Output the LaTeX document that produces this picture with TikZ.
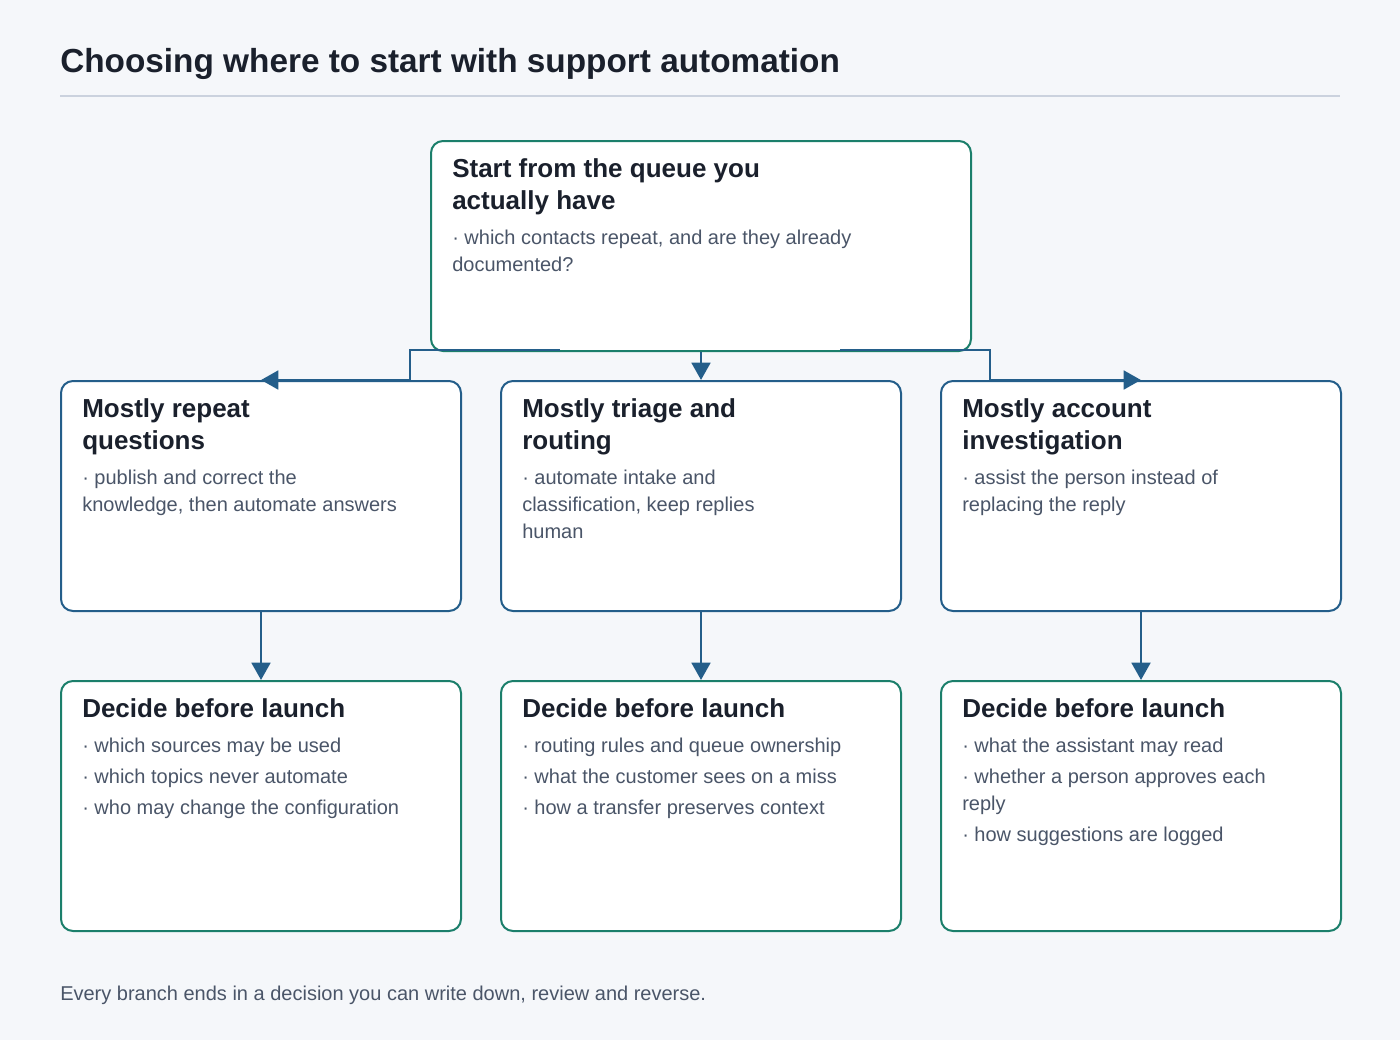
\documentclass[tikz,border=0pt]{standalone}
\usepackage{fontspec}
\setmainfont{Liberation Sans}
\usetikzlibrary{positioning,arrows.meta,backgrounds}
\definecolor{fondgris}{HTML}{F5F7FA}
\definecolor{bordvert}{HTML}{1B7F6B}
\definecolor{bordbleu}{HTML}{245E8A}
\definecolor{titrenoir}{HTML}{1A202C}
\definecolor{textegris}{HTML}{4A5568}
\definecolor{filetgris}{HTML}{CBD2DE}

\begin{document}
\begin{tikzpicture}[%
    x=0.75pt,y=-0.75pt,%
    boite/.style={draw,line width=1.5pt,fill=white,rounded corners=9pt,anchor=north west,inner sep=0pt},%
    vert/.style={boite,draw=bordvert},%
    bleu/.style={boite,draw=bordbleu},%
    titre/.style={anchor=north west,inner sep=0pt,align=left,text=titrenoir,font=\fontsize{19.5}{24}\selectfont\bfseries},%
    corps/.style={anchor=north west,inner sep=0pt,align=left,text=textegris,font=\fontsize{15}{20.3}\selectfont},%
    fleche/.style={draw=bordbleu,line width=2.2pt,-{Triangle[length=13pt,width=14pt]}}%
    ]
    % Fond
    \fill[fondgris] (0,0) rectangle (1400,1040);
    \useasboundingbox (0,0) rectangle (1400,1040);

    % Titre
    \node[anchor=base west,inner sep=0pt,text=titrenoir,font=\fontsize{25}{30}\selectfont\bfseries]
        (entete) at (60,72) {Choosing where to start with support automation};
    \draw[filetgris,line width=1.5pt] (60,96) -- (1340,96);

    %
    % Boites
    %
    \node[vert,minimum width=405pt,minimum height=157.5pt] (depart) at (430,140) {};
    \node[bleu,minimum width=300pt,minimum height=172.5pt] (repet) at (60,380) {};
    \node[bleu,minimum width=300pt,minimum height=172.5pt] (tri) at (500,380) {};
    \node[bleu,minimum width=300pt,minimum height=172.5pt] (compte) at (940,380) {};
    \node[vert,minimum width=300pt,minimum height=187.5pt] (decrep) at (60,680) {};
    \node[vert,minimum width=300pt,minimum height=187.5pt] (dectri) at (500,680) {};
    \node[vert,minimum width=300pt,minimum height=187.5pt] (deccpt) at (940,680) {};

    % Textes
    \node[titre] (tdepart) at (452,158) {Start from the queue you\\actually have};
    \node[corps] (cdepart) at (452,230) {· which contacts repeat, and are they already\\documented?};

    \node[titre] (trepet) at (82,398) {Mostly repeat\\questions};
    \node[corps] (crepet) at (82,470) {· publish and correct the\\knowledge, then automate answers};
    \node[titre] (ttri) at (522,398) {Mostly triage and\\routing};
    \node[corps] (ctri) at (522,470) {· automate intake and\\classification, keep replies\\human};
    \node[titre] (tcompte) at (962,398) {Mostly account\\investigation};
    \node[corps] (ccompte) at (962,470) {· assist the person instead of\\replacing the reply};

    \node[titre] (tdecrep) at (82,698) {Decide before launch};
    \node[corps,font=\fontsize{15}{23.3}\selectfont] (cdecrep) at (82,738)
        {· which sources may be used\\· which topics never automate\\· who may change the configuration};
    \node[titre] (tdectri) at (522,698) {Decide before launch};
    \node[corps,font=\fontsize{15}{23.3}\selectfont] (cdectri) at (522,738)
        {· routing rules and queue ownership\\· what the customer sees on a miss\\· how a transfer preserves context};
    \node[titre] (tdeccpt) at (962,698) {Decide before launch};
    \node[corps] (cdeccpt) at (962,738) {· what the assistant may read};
    \node[corps] (cdeccpt2) at (962,769) {· whether a person approves each\\reply};
    \node[corps] (cdeccpt3) at (962,827) {· how suggestions are logged};

    % Pied
    \node[anchor=base west,inner sep=0pt,text=textegris,font=\fontsize{15}{18}\selectfont]
        (pied) at (60,1000) {Every branch ends in a decision you can write down, review and reverse.};

    %
    % Fleches
    %
    \coordinate (dg) at (560,350);
    \coordinate (dd) at (840,350);
    \draw[fleche] (dg) -- (410,350) -- (410,380) -- (repet.north);
    \draw[fleche] (depart.south) -- (tri.north);
    \draw[fleche] (dd) -- (990,350) -- (990,380) -- (compte.north);
    \draw[fleche] (repet.south) -- (decrep.north);
    \draw[fleche] (tri.south) -- (dectri.north);
    \draw[fleche] (compte.south) -- (deccpt.north);
\end{tikzpicture}
\end{document}
